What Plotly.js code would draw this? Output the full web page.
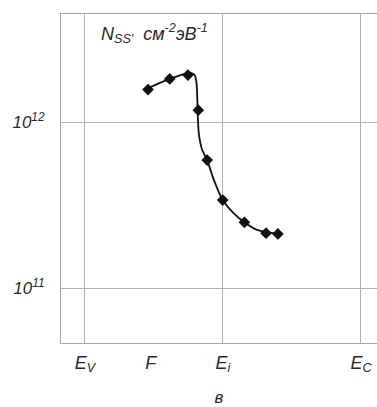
<!DOCTYPE html>
<html>
<head>
<meta charset="utf-8">
<script src="https://cdn.plot.ly/plotly-3.0.1.min.js"></script>
<style>
  html, body { margin: 0; padding: 0; background: #fff; }
  #chart { width: 377px; height: 407px; }
</style>
</head>
<body>
<div id="chart"></div>
<script>
// Energy levels in the band gap (eV, measured from the valence band edge)
const levelNames = ['E<sub>V</sub>', 'F', 'E<sub>i</sub>', 'E<sub>C</sub>'];
const levelEnergies = [0, 0.267, 0.56, 1.12];
const gridLevels = [0, 0.56, 1.12];

// Measured surface-state density N_ss (cm^-2 eV^-1)
const measuredE = [0.256, 0.344, 0.418, 0.460, 0.496, 0.559, 0.647, 0.735, 0.783];
const measuredN = [1.57e12, 1.82e12, 1.92e12, 1.18e12, 5.9e11, 3.39e11, 2.49e11, 2.14e11, 2.12e11];

// Smoothed curve through the measurements
const fitE = [0.256, 0.344, 0.408, 0.429, 0.445, 0.453, 0.456, 0.458, 0.462, 0.476, 0.496,
              0.523, 0.559, 0.604, 0.647, 0.698, 0.783];
const fitN = [1.60e12, 1.82e12, 1.96e12, 1.98e12, 1.92e12, 1.71e12, 1.36e12, 1.08e12, 8.55e11,
              6.78e11, 5.90e11, 4.48e11, 3.39e11, 2.82e11, 2.49e11, 2.24e11, 2.12e11];

const yTickVals = [1e11, 1e12];
const yTickText = ['10<sup>11</sup>', '10<sup>12</sup>'];

const xRange = [-0.097, 1.185];
const yRange = [10.669, 12.651];

const font = { family: 'Liberation Sans, Arial, sans-serif', color: '#2a2a2a' };

const traces = [
  {
    x: fitE, y: fitN, type: 'scatter', mode: 'lines',
    line: { color: '#111', width: 1.8, shape: 'spline', smoothing: 0.6 },
    hoverinfo: 'skip', showlegend: false
  },
  {
    x: measuredE, y: measuredN, type: 'scatter', mode: 'markers',
    marker: { symbol: 'diamond', size: 9, color: '#111' },
    showlegend: false
  }
];

const layout = {
  width: 377, height: 407,
  margin: { l: 61, r: 0, t: 14, b: 64 },
  paper_bgcolor: '#fff', plot_bgcolor: '#fff',
  font: font,
  showlegend: false,
  xaxis: {
    range: xRange,
    tickmode: 'array', tickvals: levelEnergies, ticktext: levelNames,
    tickfont: { family: font.family, size: 18, color: '#2a2a2a', style: 'italic' },
    ticks: '', showgrid: false, zeroline: false,
    showline: true, mirror: true, linecolor: '#a8a8a8', linewidth: 1,
    ticklabelstandoff: 3,
    title: { text: 'в', font: { family: font.family, size: 17, color: '#2a2a2a', style: 'italic' }, standoff: 16 }
  },
  xaxis2: {
    overlaying: 'x', range: xRange,
    tickmode: 'array', tickvals: gridLevels,
    showticklabels: false, ticks: '',
    showgrid: true, gridcolor: '#b0b0b0', gridwidth: 1,
    zeroline: false, showline: false
  },
  yaxis: {
    type: 'log', range: yRange,
    tickmode: 'array', tickvals: yTickVals, ticktext: yTickText,
    tickfont: { family: font.family, size: 17, color: '#2a2a2a', style: 'italic' },
    ticks: '', showgrid: true, gridcolor: '#b0b0b0', gridwidth: 1,
    zeroline: false, showline: true, linecolor: '#a8a8a8', linewidth: 1,
    ticklabelstandoff: 12
  },
  annotations: [
    {
      xref: 'paper', yref: 'paper', x: 0.12, y: 0.94,
      xanchor: 'left', yanchor: 'middle', showarrow: false,
      text: 'N<sub>SS\'</sub>  см<sup>-2</sup>эВ<sup>-1</sup>',
      font: { family: font.family, size: 18, color: '#2a2a2a', style: 'italic' }
    }
  ]
};

// Invisible trace to anchor the gridline axis
traces.push({ x: [xRange[0]], y: [1e11], xaxis: 'x2', type: 'scatter', mode: 'markers',
              marker: { opacity: 0 }, hoverinfo: 'skip', showlegend: false });

Plotly.newPlot('chart', traces, layout, { displayModeBar: false, staticPlot: true });
</script>
</body>
</html>
